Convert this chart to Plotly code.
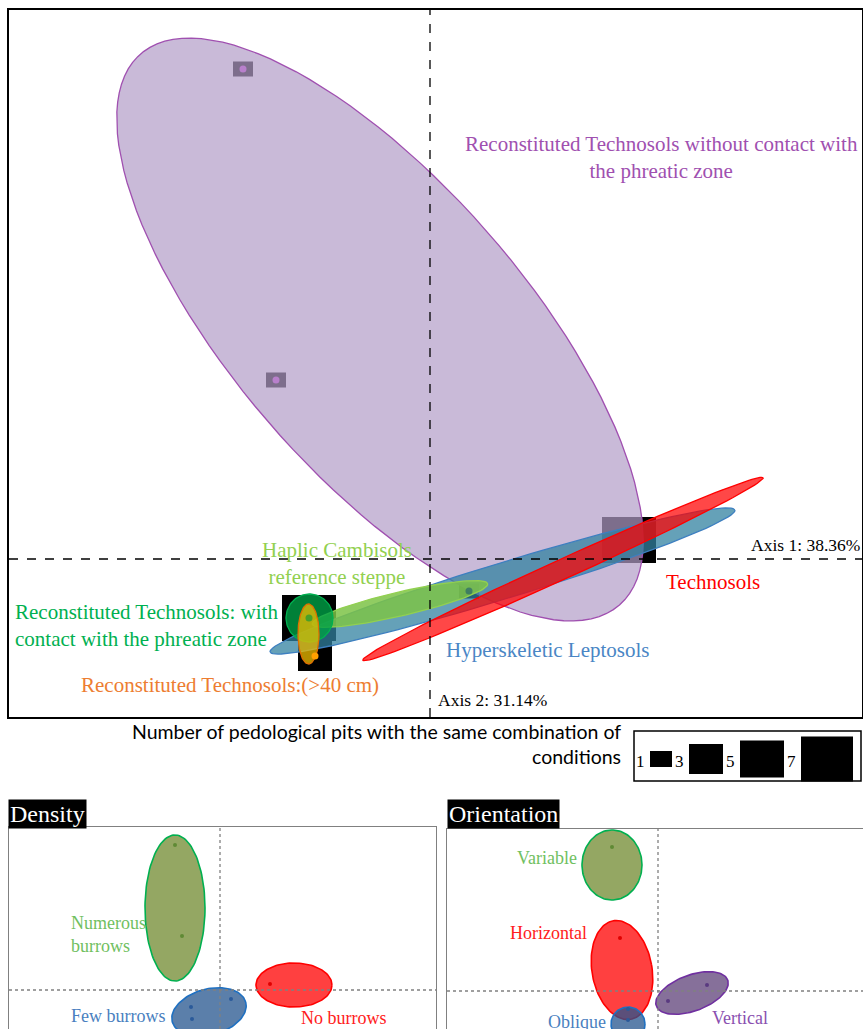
import numpy as np
import plotly.graph_objects as go

W, H = 863, 1029

# ---------------- main ordination (axis units) ----------------
# confidence ellipses: centre, semi-axes, rotation (deg)
main_groups = ["without contact", "Hyperskeletic Leptosols", "Technosols",
               "Haplic Cambisols", "with contact", ">40 cm"]
main_cx = [-0.25, 0.3625, 0.665, -0.15, -0.6025, -0.6075]
main_cy = [1.1475, -0.11, -0.05, -0.225, -0.295, -0.375]
main_a = [1.825, 1.215, 1.10, 0.45, 0.1175, 0.0525]
main_b = [0.725, 0.09, 0.05, 0.06, 0.12, 0.15]
main_ang = [-49, 17, 24.5, 13, 0, 0]

# pits (combinations of conditions) and how many pits share them
pit_x = [-0.935, -0.77, 0.195, 0.995, -0.605, -0.575]
pit_y = [2.45, 0.895, -0.16, 0.095, -0.295, -0.485]
pit_n = [1, 1, 1, 7, 7, 3]

legend_counts = [1, 3, 5, 7]

# ---------------- burrow density ----------------
dens_groups = ["Numerous burrows", "No burrows", "Few burrows"]
dens_cx = [-0.45, 0.74, -0.11]
dens_cy = [0.82, 0.05, -0.22]
dens_a = [0.30, 0.38, 0.38]
dens_b = [0.73, 0.22, 0.23]
dens_ang = [0, 0, 15]
dens_pt_x = [[-0.45, -0.38], [0.50], [-0.29, -0.28, 0.11]]
dens_pt_y = [[1.45, 0.54], [0.06], [-0.17, -0.29, -0.09]]

# ---------------- burrow orientation ----------------
ori_groups = ["Variable", "Horizontal", "Vertical", "Oblique"]
ori_cx = [-0.46, -0.36, 0.34, -0.30]
ori_cy = [1.26, 0.21, -0.02, -0.33]
ori_a = [0.30, 0.30, 0.38, 0.17]
ori_b = [0.35, 0.50, 0.18, 0.17]
ori_ang = [0, 10, 20, 0]
ori_pt_x = [[-0.46], [-0.38], [0.10, 0.49], [-0.30, -0.30]]
ori_pt_y = [[1.44], [0.53], [-0.10, 0.06], [-0.18, -0.29]]

# ---------------- styles ----------------
SERIF = "Liberation Serif"
main_fill = ["rgba(178,157,200,0.7)", "rgba(50,130,160,0.75)", "rgba(255,0,0,0.72)",
             "rgba(125,195,70,0.85)", "rgba(0,160,70,0.8)", "rgba(240,190,0,0.75)"]
main_line = ["#a050b0", "#3d7fc0", "#ff0000", "#92d050", "#00b050", "#e07000"]
pit_dot = ["#b880cc", "#b880cc", "rgba(30,90,110,0.6)", "rgba(0,0,0,0)",
           "rgba(0,150,60,0.6)", "#ffa000"]
rect_px = {1: (20, 15), 3: (34, 30), 5: (44, 37), 7: (54, 46)}

dens_fill = ["rgba(112,137,47,0.75)", "rgba(255,0,0,0.75)", "rgba(36,84,141,0.75)"]
dens_line = ["#00b050", "#ff0000", "#1f70c1"]
dens_dot = ["#5f8a35", "#e00000", "#2a5a9a"]
ori_fill = ["rgba(112,137,47,0.75)", "rgba(255,0,0,0.75)",
            "rgba(93,64,120,0.75)", "rgba(36,84,141,0.75)"]
ori_line = ["#00b050", "#ff0000", "#7030a0", "#1f70c1"]
ori_dot = ["#5f8a35", "#e00000", "#5a3a80", "#2a5a9a"]


def ellipse(cx, cy, a, b, ang, n=120):
    t = np.linspace(0, 2 * np.pi, n)
    r = np.radians(ang)
    x = a * np.cos(t)
    y = b * np.sin(t)
    return cx + x * np.cos(r) - y * np.sin(r), cy + x * np.sin(r) + y * np.cos(r)


fig = go.Figure()

# pit rectangles (under the ellipses); main axes: 200 px per unit
for x, y, n in zip(pit_x, pit_y, pit_n):
    w, h = rect_px[n]
    dx, dy = w / 400, h / 400
    fig.add_trace(go.Scatter(x=[x - dx, x + dx, x + dx, x - dx, x - dx],
                             y=[y - dy, y - dy, y + dy, y + dy, y - dy],
                             fill="toself", fillcolor="black", mode="none",
                             xaxis="x", yaxis="y", hoverinfo="skip"))

for i in range(len(main_groups)):
    ex, ey = ellipse(main_cx[i], main_cy[i], main_a[i], main_b[i], main_ang[i])
    fig.add_trace(go.Scatter(x=ex, y=ey, fill="toself", fillcolor=main_fill[i],
                             mode="lines", line=dict(color=main_line[i], width=1.3),
                             name=main_groups[i], xaxis="x", yaxis="y"))

fig.add_trace(go.Scatter(x=pit_x, y=pit_y, mode="markers",
                         marker=dict(size=7, color=pit_dot), xaxis="x", yaxis="y"))


def small_panel(xa, ya, groups, cx, cy, a, b, ang, px, py, fills, lines, dots):
    for i in range(len(groups)):
        ex, ey = ellipse(cx[i], cy[i], a[i], b[i], ang[i])
        fig.add_trace(go.Scatter(x=ex, y=ey, fill="toself", fillcolor=fills[i],
                                 mode="lines", line=dict(color=lines[i], width=1.6),
                                 name=groups[i], xaxis=xa, yaxis=ya))
        fig.add_trace(go.Scatter(x=px[i], y=py[i], mode="markers",
                                 marker=dict(size=4, color=dots[i]),
                                 xaxis=xa, yaxis=ya))


small_panel("x2", "y2", dens_groups, dens_cx, dens_cy, dens_a, dens_b, dens_ang,
            dens_pt_x, dens_pt_y, dens_fill, dens_line, dens_dot)
small_panel("x3", "y3", ori_groups, ori_cx, ori_cy, ori_a, ori_b, ori_ang,
            ori_pt_x, ori_pt_y, ori_fill, ori_line, ori_dot)

ax = dict(showgrid=False, zeroline=False, showticklabels=False, ticks="")
fig.update_layout(
    width=W, height=H, margin=dict(l=0, r=0, t=0, b=0),
    plot_bgcolor="white", paper_bgcolor="white", showlegend=False,
    xaxis=dict(ax, domain=[9 / W, 862 / W], range=[-2.105, 2.16],
               showline=True, mirror=True, linecolor="black", linewidth=1.5),
    yaxis=dict(ax, domain=[1 - 717 / H, 1 - 10 / H], range=[-0.79, 2.745],
               showline=True, mirror=True, linecolor="black", linewidth=1.5),
    xaxis2=dict(ax, domain=[9 / W, 436 / W], range=[-2.11, 2.16], anchor="y2",
                side="top", showline=True, linecolor="#808080", linewidth=1),
    yaxis2=dict(ax, domain=[0, 1 - 827 / H], range=[-0.39, 1.63], anchor="x2",
                showline=True, mirror=True, linecolor="#808080", linewidth=1),
    xaxis3=dict(ax, domain=[447 / W, 1], range=[-2.11, 2.05], anchor="y3",
                side="top", showline=True, linecolor="#808080", linewidth=1),
    yaxis3=dict(ax, domain=[0, 1 - 829 / H], range=[-0.38, 1.62], anchor="x3",
                showline=True, linecolor="#808080", linewidth=1),
)

# origin lines
for xr, yr, style in [("x", "y", dict(color="black", width=1.3, dash="dash")),
                      ("x2", "y2", dict(color="#808080", width=1.3, dash="dot")),
                      ("x3", "y3", dict(color="#808080", width=1.3, dash="dot"))]:
    fig.add_shape(type="line", xref=xr, yref=yr + " domain", x0=0, x1=0, y0=0, y1=1,
                  line=style)
    fig.add_shape(type="line", xref=xr + " domain", yref=yr, x0=0, x1=1, y0=0, y1=0,
                  line=style)


def label(text, x, y, color, xr, yr, size=21, xanchor="center", align="center"):
    fig.add_annotation(text=text, x=x, y=y, xref=xr, yref=yr, showarrow=False,
                       xanchor=xanchor, yanchor="middle", align=align,
                       font=dict(family=SERIF, size=size, color=color))


label("Reconstituted Technosols without contact with<br>the phreatic zone",
      1.155, 2.01, "#a050b0", "x", "y")
label("Haplic Cambisols<br>reference steppe", -0.465, -0.02, "#92d050", "x", "y")
label("Reconstituted Technosols: with<br>contact with the phreatic zone",
      -2.085, -0.33, "#00b050", "x", "y", xanchor="left", align="left")
label("Reconstituted Technosols:(>40 cm)", -1.0, -0.63, "#ed7d31", "x", "y")
label("Hyperskeletic Leptosols", 0.07, -0.455, "#4a86c5", "x", "y", xanchor="left")
label("Technosols", 1.17, -0.115, "#ff0000", "x", "y", xanchor="left")
label("Axis 1: 38.36%", 2.16, 0.07, "black", "x", "y", size=17.5, xanchor="right")
label("Axis 2: 31.14%", 0.03, -0.705, "black", "x", "y", size=17.5, xanchor="left")

label("Numerous<br>burrows", -1.51, 0.56, "#70c060", "x2", "y2", size=18,
      xanchor="left", align="left")
label("Few burrows", -1.51, -0.26, "#4a7fc0", "x2", "y2", size=18, xanchor="left")
label("No burrows", 0.79, -0.28, "#ff2020", "x2", "y2", size=18, xanchor="left")
label("Variable", -0.79, 1.33, "#70c060", "x3", "y3", size=18, xanchor="right")
label("Horizontal", -0.69, 0.58, "#ff2020", "x3", "y3", size=18, xanchor="right")
label("Vertical", 0.52, -0.27, "#8a50b0", "x3", "y3", size=18, xanchor="left")
label("Oblique", -0.50, -0.31, "#4a7fc0", "x3", "y3", size=18, xanchor="right")

# panel titles
for text, x0, y0 in [("Density", 8, 829), ("Orientation", 447, 829)]:
    fig.add_annotation(text=text, x=x0 / W, y=1 - y0 / H, xref="paper", yref="paper",
                       showarrow=False, xanchor="left", yanchor="bottom",
                       bgcolor="black", borderpad=1,
                       font=dict(family=SERIF, size=24, color="white"))

# size legend
fig.add_annotation(text="Number of pedological pits with the same combination of<br>conditions",
                   x=623 / W, y=1 - 744 / H, xref="paper", yref="paper",
                   showarrow=False, xanchor="right", yanchor="middle", align="right",
                   font=dict(family="Lato", size=19.5, color="black"))
fig.add_shape(type="rect", xref="paper", yref="paper", x0=634 / W, x1=861 / W,
              y0=1 - 781 / H, y1=1 - 731 / H, line=dict(color="black", width=1.5))
cursor = 633
lw = {1: (22, 16), 3: (34, 30), 5: (44, 37), 7: (52, 45)}
for n in legend_counts:
    lx = cursor + 7
    fig.add_annotation(text=str(n), x=lx / W, y=1 - 761 / H, xref="paper", yref="paper",
                       showarrow=False, xanchor="center", yanchor="middle",
                       font=dict(family=SERIF, size=17, color="black"))
    w, h = lw[n]
    fig.add_shape(type="rect", xref="paper", yref="paper",
                  x0=(lx + 10) / W, x1=(lx + 10 + w) / W,
                  y0=1 - (759 + h / 2) / H, y1=1 - (759 - h / 2) / H,
                  fillcolor="black", line=dict(width=0))
    cursor = lx + 10 + w

fig.write_html("out.html", config={"displayModeBar": False},
               post_script="document.body.style.margin='0';")
